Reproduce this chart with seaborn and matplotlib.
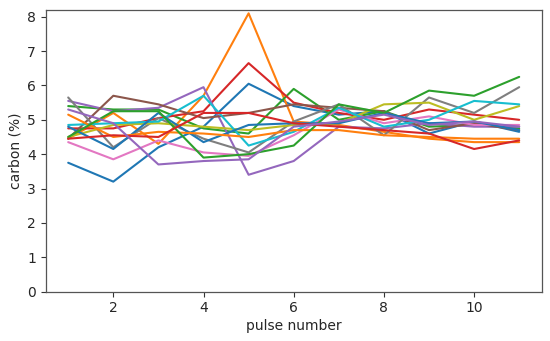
import matplotlib
matplotlib.use("Agg")
import matplotlib.pyplot as plt
import seaborn as sns
import pandas as pd

# pulse numbers on the x axis
pulses = list(range(1, 12))

# carbon (%) per run
run_01 = [3.75, 3.2, 4.2, 4.8, 6.05, 5.4, 5.15, 5.25, 4.6, 4.95, 4.65]
run_02 = [4.45, 5.2, 4.3, 5.7, 8.1, 4.95, 4.85, 4.65, 4.45, 4.35, 4.35]
run_03 = [5.4, 5.3, 5.3, 4.75, 4.6, 5.9, 5.0, 5.25, 4.8, 4.85, 4.75]
run_04 = [4.75, 4.75, 5.05, 5.25, 6.65, 5.5, 5.2, 5.0, 5.3, 5.15, 5.0]
run_05 = [5.55, 5.25, 5.35, 5.95, 3.4, 3.8, 4.8, 4.75, 4.9, 4.8, 4.8]
run_06 = [4.45, 5.7, 5.45, 5.05, 5.2, 5.45, 5.35, 5.25, 4.7, 4.9, 4.7]
run_07 = [4.35, 3.85, 4.4, 4.05, 3.95, 4.55, 5.3, 4.9, 5.1, 4.85, 4.85]
run_08 = [5.65, 4.2, 5.05, 4.45, 4.05, 4.95, 5.45, 4.55, 5.65, 5.2, 5.95]
run_09 = [4.5, 4.85, 4.9, 4.8, 4.7, 4.85, 4.9, 5.45, 5.5, 5.0, 5.4]
run_10 = [4.85, 4.9, 4.95, 5.7, 4.25, 4.65, 5.35, 4.8, 5.0, 5.55, 5.45]
run_11 = [4.8, 4.15, 5.2, 4.35, 4.85, 4.9, 4.9, 5.2, 4.9, 4.95, 4.7]
run_12 = [5.15, 4.5, 4.65, 4.6, 4.5, 4.7, 4.7, 4.55, 4.5, 4.45, 4.45]
run_13 = [4.5, 5.25, 5.25, 3.9, 4.0, 4.25, 5.45, 5.2, 5.85, 5.7, 6.25]
run_14 = [4.45, 4.55, 4.5, 5.2, 5.2, 4.9, 4.8, 4.7, 4.6, 4.15, 4.4]
run_15 = [5.3, 4.9, 3.7, 3.8, 3.85, 4.8, 4.95, 5.15, 4.85, 4.95, 4.8]

runs = [run_01, run_02, run_03, run_04, run_05, run_06, run_07, run_08,
        run_09, run_10, run_11, run_12, run_13, run_14, run_15]

rows = []
for i, r in enumerate(runs):
    for p, c in zip(pulses, r):
        rows.append({"run": i, "pulse": p, "carbon": c})
df = pd.DataFrame(rows)

sns.set_style("white")
plt.rcParams["font.family"] = ["DejaVu Sans"]

tab10 = sns.color_palette("tab10")
palette = [tab10[i % 10] for i in range(len(runs))]

fig = plt.figure(figsize=(5.5, 3.41), dpi=100)
ax = fig.add_axes([0.083, 0.145, 0.902, 0.826])
sns.lineplot(data=df, x="pulse", y="carbon", hue="run", palette=palette,
             legend=False, linewidth=1.5, ax=ax)

ax.set_ylim(0, 8.2)
ax.set_xlim(0.5, 11.5)
ax.set_xticks([2, 4, 6, 8, 10])
ax.set_yticks(range(0, 9))
ax.set_xlabel("pulse number", fontsize=10, labelpad=3)
ax.set_ylabel("carbon (%)", fontsize=10, labelpad=3)
ax.tick_params(axis="both", labelsize=10, direction="out", length=3.5,
               left=True, bottom=True, color="#333333")
for s in ax.spines.values():
    s.set_color("#555555")
    s.set_linewidth(0.9)

fig.savefig("out.png", dpi=100)
